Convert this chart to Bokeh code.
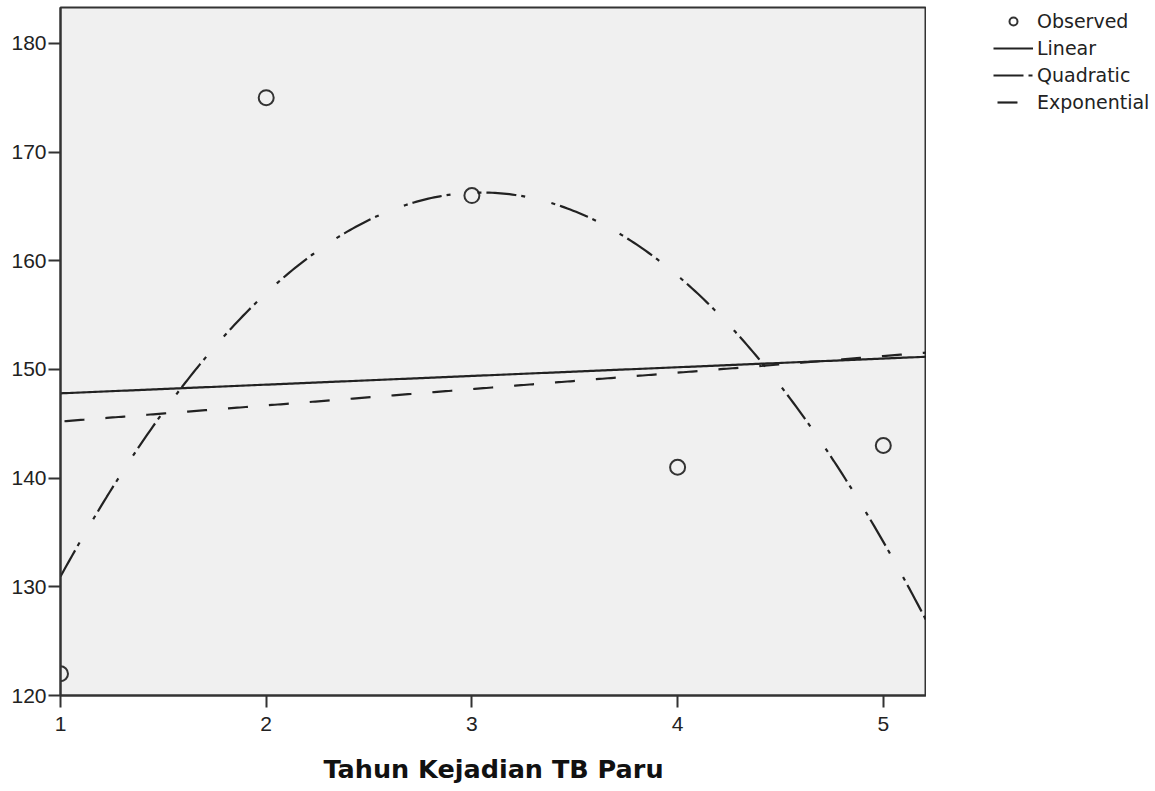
import numpy as np
from bokeh.plotting import figure
from bokeh.layouts import row
from bokeh.models import Range1d, FixedTicker, Legend, LegendItem, ColumnDataSource
from bokeh.embed import file_html
from bokeh.resources import INLINE

# ---- data ----
years = [1, 2, 3, 4, 5]
observed = [122, 175, 166, 141, 143]
x_ticks = [1, 2, 3, 4, 5]
y_ticks = [120, 130, 140, 150, 160, 170, 180]
x_label = "Tahun Kejadian TB Paru"
legend_labels = ["Observed", "Linear", "Quadratic", "Exponential"]

X_START, X_END = 1.0, 5.21
Y_START, Y_END = 120.0, 183.3

# ---- curve-fit models (as in the SPSS Curve Estimation output) ----
xa = np.array(years, dtype=float)
ya = np.array(observed, dtype=float)
lin_c = np.polyfit(xa, ya, 1)
quad_c = np.polyfit(xa, ya, 2)
exp_c = np.polyfit(xa, np.log(ya), 1)
xs = np.linspace(X_START, X_END, 300)
lin_y = np.polyval(lin_c, xs)
quad_y = np.polyval(quad_c, xs)
exp_y = np.exp(np.polyval(exp_c, xs))

INK = "#222222"
AX = "#333333"
QUAD_DASH, QUAD_OFF = "4 5 30 5 4 27", 9
EXP_DASH, EXP_OFF = "20 21", 37

# ---------------- main chart ----------------
p = figure(frame_width=866, frame_height=688, output_backend="svg",
           toolbar_location=None,
           x_range=Range1d(X_START, X_END), y_range=Range1d(Y_START, Y_END),
           min_border_left=60, min_border_right=0, min_border_top=7,
           min_border_bottom=96)
p.background_fill_color = "#F0F0F0"
p.border_fill_color = "white"
p.outline_line_color = AX
p.outline_line_width = 2
p.grid.visible = False

p.axis.axis_line_color = AX
p.axis.axis_line_width = 2
p.axis.major_tick_line_color = AX
p.axis.major_tick_line_width = 2
p.axis.major_tick_out = 12
p.axis.major_tick_in = 0
p.axis.minor_tick_out = 0
p.axis.minor_tick_in = 0
p.axis.major_label_text_font = "Liberation Sans"
p.axis.major_label_text_font_size = "21px"
p.axis.major_label_text_color = INK

p.xaxis.ticker = FixedTicker(ticks=x_ticks)
p.yaxis.ticker = FixedTicker(ticks=y_ticks)
p.xaxis.major_label_standoff = 9
p.yaxis.major_label_standoff = 2
p.xaxis.axis_label = x_label
p.xaxis.axis_label_text_font = "DejaVu Sans"
p.xaxis.axis_label_text_font_size = "25.5px"
p.xaxis.axis_label_text_font_style = "bold"
p.xaxis.axis_label_text_color = "#111111"
p.xaxis.axis_label_standoff = 20

src_obs = ColumnDataSource(dict(x=years, y=observed))
p.scatter("x", "y", source=src_obs, marker="circle", size=15,
          fill_alpha=0, line_color=AX, line_width=2)
p.line(xs, lin_y, line_color=INK, line_width=2.2)
p.line(xs, quad_y, line_color=INK, line_width=2.2,
       line_dash=QUAD_DASH, line_dash_offset=QUAD_OFF)
p.line(xs, exp_y, line_color=INK, line_width=2.2,
       line_dash=EXP_DASH, line_dash_offset=EXP_OFF)

# ---------------- legend panel (key styles of the series) ----------------
lg = figure(width=229, height=791, output_backend="svg", toolbar_location=None,
            x_range=Range1d(0, 1), y_range=Range1d(0, 1),
            x_axis_type=None, y_axis_type=None,
            min_border=0)
lg.outline_line_color = None
lg.background_fill_color = "white"
lg.border_fill_color = "white"
lg.grid.visible = False
# legend keys live outside the visible range of this panel
k_obs = lg.scatter([-5], [-5], marker="circle", size=15, fill_alpha=0,
                   line_color=AX, line_width=2)
k_lin = lg.line([-6, -5], [-5, -5], line_color=INK, line_width=2.2)
k_quad = lg.line([-6, -5], [-5, -5], line_color=INK, line_width=2.2,
                 line_dash=QUAD_DASH, line_dash_offset=QUAD_OFF)
k_exp = lg.line([-6, -5], [-5, -5], line_color=INK, line_width=2.2,
                line_dash=EXP_DASH, line_dash_offset=EXP_OFF)

legend = Legend(items=[
    LegendItem(label=legend_labels[0], renderers=[k_obs]),
    LegendItem(label=legend_labels[1], renderers=[k_lin]),
    LegendItem(label=legend_labels[2], renderers=[k_quad]),
    LegendItem(label=legend_labels[3], renderers=[k_exp]),
], location=(67, 582), orientation="vertical")
legend.background_fill_alpha = 0
legend.border_line_alpha = 0
legend.padding = 0
legend.margin = 0
legend.spacing = 5
legend.glyph_width = 40
legend.glyph_height = 20
legend.label_height = 20
legend.label_standoff = 4
legend.label_text_font = "DejaVu Sans"
legend.label_text_font_size = "19px"
legend.label_text_color = INK
lg.add_layout(legend, "center")

layout = row(p, lg, spacing=0)
open("out.html", "w").write(file_html(layout, INLINE))
